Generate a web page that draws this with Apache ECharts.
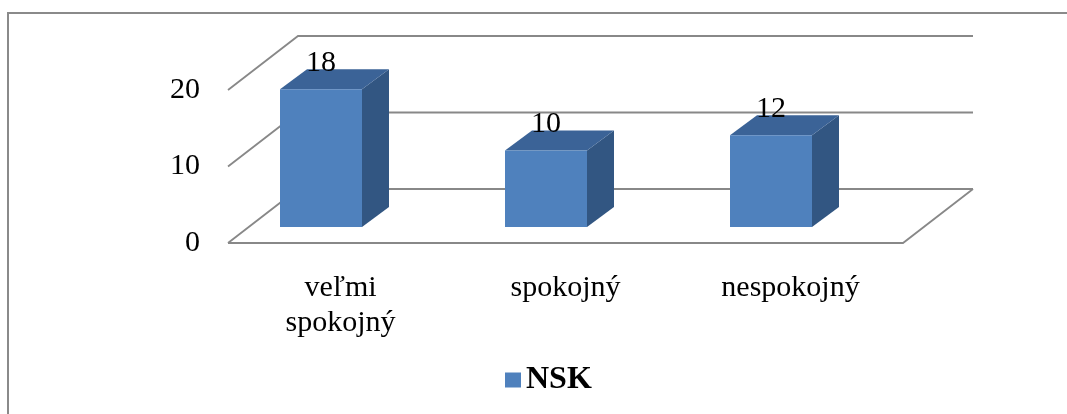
<!DOCTYPE html>
<html>
<head>
<meta charset="utf-8">
<script src="https://cdn.jsdelivr.net/npm/echarts@6.0.0/dist/echarts.min.js"></script>
<style>
  html, body { margin: 0; padding: 0; background: #fff; }
  #chart { width: 1067px; height: 414px; }
</style>
</head>
<body>
<div id="chart"></div>
<script>
// data
const categories = ["veľmi\nspokojný", "spokojný", "nespokojný"];
const nskValues = [18, 10, 12];
const yTicks = [0, 10, 20];
const seriesName = "NSK";

// 3D look (oblique projection, pixels)
const DEPTH_X = 70, DEPTH_Y = -54;      // wall depth
const BAR_SHIFT_X = -19.5, BAR_SHIFT_Y = -16; // bar front face vs front plane
const BAR_W = 82, BAR_DX = 27, BAR_DY = -20;  // bar size and bar depth
const FONT = "'Liberation Serif', 'Times New Roman', serif";
const GRID_COLOR = "#888888";

const chart = echarts.init(document.getElementById("chart"), null, { renderer: "canvas" });

function renderWalls(params, api) {
  const cs = params.coordSys;
  const v = api.value(0);
  const y = api.coord([0, v])[1];
  const left = cs.x, right = cs.x + cs.width;
  const children = [{
    type: "polyline",
    shape: { points: [[left, y], [left + DEPTH_X, y + DEPTH_Y], [right + DEPTH_X, y + DEPTH_Y]] },
    style: { stroke: GRID_COLOR, lineWidth: 1.8, fill: null }
  }];
  if (v === 0) {
    children.push({
      type: "polyline",
      shape: { points: [[left, y], [right, y], [right + DEPTH_X, y + DEPTH_Y]] },
      style: { stroke: GRID_COLOR, lineWidth: 1.8, fill: null }
    });
  }
  return { type: "group", children };
}

function renderBar(params, api) {
  const idx = api.value(0);
  const val = api.value(1);
  const top = api.coord([idx, val]);
  const base = api.coord([idx, 0]);
  const cx = top[0] + BAR_SHIFT_X;
  const x0 = cx - BAR_W / 2, x1 = cx + BAR_W / 2;
  const yt = top[1] + BAR_SHIFT_Y, yb = base[1] + BAR_SHIFT_Y;
  return {
    type: "group",
    children: [
      { type: "polygon", shape: { points: [[x1, yt], [x1 + BAR_DX, yt + BAR_DY], [x1 + BAR_DX, yb + BAR_DY], [x1, yb]] },
        style: { fill: "#325682" } },
      { type: "polygon", shape: { points: [[x0, yt], [x0 + BAR_DX, yt + BAR_DY], [x1 + BAR_DX, yt + BAR_DY], [x1, yt]] },
        style: { fill: "#3b6397" } },
      { type: "rect", shape: { x: x0, y: yt, width: BAR_W, height: yb - yt },
        style: { fill: "#4f81bd" } },
      { type: "text", x: cx, y: yt - 11,
        style: { text: String(val), fill: "#000", font: "30px " + FONT, align: "center", verticalAlign: "bottom" } }
    ]
  };
}

chart.setOption({
  animation: false,
  backgroundColor: "#fff",
  graphic: [{
    type: "rect", shape: { x: 8, y: 13, width: 1100, height: 500 },
    style: { fill: null, stroke: "#8a8a8a", lineWidth: 2 }, silent: true
  }],
  grid: { left: 228, right: 164, top: 90, bottom: 171 },
  legend: {
    data: [{ name: seriesName, icon: "rect", itemStyle: { color: "#4f81bd" } }],
    left: 505, top: 364, padding: 0,
    itemWidth: 16, itemHeight: 15, itemGap: 7,
    textStyle: { fontFamily: FONT, fontSize: 32, fontWeight: "bold", color: "#000" }
  },
  xAxis: {
    type: "category",
    data: categories,
    axisLine: { show: false },
    axisTick: { show: false },
    axisLabel: { color: "#000", fontFamily: FONT, fontSize: 30, lineHeight: 35, margin: 28, interval: 0 }
  },
  yAxis: {
    type: "value",
    min: 0, max: 20, interval: 10,
    axisLine: { show: false },
    axisTick: { show: false },
    splitLine: { show: false },
    axisLabel: { color: "#000", fontFamily: FONT, fontSize: 30, margin: 28 }
  },
  series: [
    {
      type: "custom",
      name: "walls",
      renderItem: renderWalls,
      data: yTicks.map((v) => [v]),
      encode: { y: 0 },
      silent: true,
      z: 1
    },
    {
      type: "custom",
      name: seriesName,
      renderItem: renderBar,
      data: nskValues.map((v, i) => [i, v]),
      encode: { x: 0, y: 1 },
      itemStyle: { color: "#4f81bd" },
      z: 2
    }
  ]
});
</script>
</body>
</html>
